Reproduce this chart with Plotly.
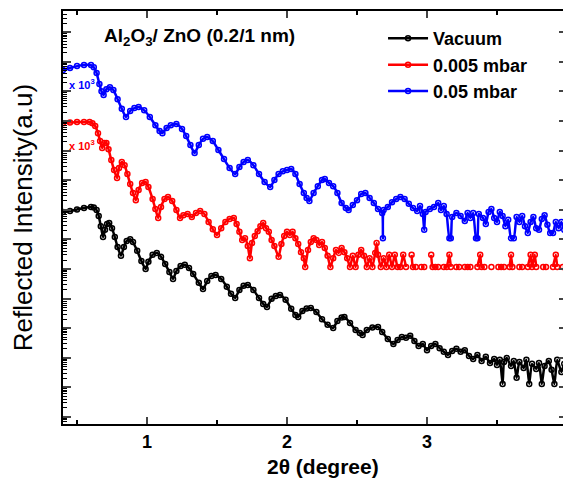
import plotly.graph_objects as go

# 2-theta (degree) and reflected intensity (a.u.)
vac_x = [0.40, 0.45, 0.50, 0.55, 0.60, 0.62, 0.64, 0.655, 0.67, 0.686, 0.70, 0.715, 0.73, 0.75, 0.77,
         0.79, 0.814, 0.835, 0.855, 0.88, 0.90, 0.93, 0.96, 0.99, 1.01, 1.04, 1.07, 1.10, 1.13, 1.16,
         1.186, 1.21, 1.24, 1.27, 1.30, 1.33, 1.37, 1.40, 1.43, 1.46, 1.49, 1.53, 1.57, 1.60, 1.63,
         1.66, 1.69, 1.72, 1.76, 1.80, 1.83, 1.857, 1.89, 1.92, 1.95, 1.99, 2.03, 2.06, 2.08, 2.11,
         2.14, 2.17, 2.21, 2.25, 2.29, 2.33, 2.36, 2.39, 2.41, 2.45, 2.49, 2.52, 2.54, 2.57, 2.61,
         2.65, 2.68, 2.72, 2.76, 2.79, 2.82, 2.85, 2.88, 2.91, 2.94, 2.97, 3.00, 3.03, 3.06, 3.09,
         3.12, 3.15, 3.18, 3.21, 3.24, 3.27, 3.30, 3.33, 3.36, 3.39, 3.42, 3.45, 3.48, 3.50, 3.52,
         3.54, 3.55, 3.57, 3.60, 3.62, 3.64, 3.66, 3.69, 3.71, 3.73, 3.75, 3.78, 3.80, 3.82, 3.84,
         3.87, 3.89, 3.91, 3.93, 3.96, 3.98, 4.00]
vac_y = [8.4e6, 9.1e6, 1.02e7, 1.15e7, 1.24e7, 1.2e7, 9.8e6, 6.2e6, 2.8e6, 1.2e6, 2.1e6, 3.3e6, 3.6e6, 2.4e6, 1.2e6,
         5.5e5, 2.8e5, 5.5e5, 8.9e5, 1.02e6, 8.1e5, 4.1e5, 1.86e5, 1.0e5, 1.74e5, 3.0e5, 3.5e5, 2.6e5, 1.48e5, 7.9e4,
         4.6e4, 8.5e4, 1.26e5, 1.38e5, 1.07e5, 6.8e4, 3.4e4, 2.1e4, 3.9e4, 5.8e4, 6.3e4, 4.6e4, 2.5e4, 1.45e4, 1.05e4,
         1.95e4, 2.7e4, 2.9e4, 1.95e4, 1.05e4, 6.6e3, 5.2e3, 9.8e3, 1.23e4, 1.32e4, 9.1e3, 4.5e3, 2.8e3, 2.4e3, 3.8e3,
         4.6e3, 4.8e3, 3.5e3, 2.0e3, 1.3e3, 1.02e3, 1.75e3, 2.3e3, 2.4e3, 1.5e3, 8.7e2, 6.9e2, 5.9e2, 8.7e2, 1.05e3,
         1.1e3, 7.4e2, 4.3e2, 2.9e2, 4.0e2, 5.0e2, 4.7e2, 5.5e2, 3.7e2, 2.5e2, 2.9e2, 1.8e2, 2.5e2, 2.9e2, 2.1e2,
         1.6e2, 1.24e2, 1.7e2, 2.0e2, 1.6e2, 1.8e2, 1.15e2, 91, 124, 78, 107, 66, 91, 57, 85,
         13, 72, 98, 53, 78, 21, 72, 45, 85, 13, 62, 42, 66, 13, 53,
         78, 39, 13, 85, 33, 62, 42]

red_x = [0.40, 0.45, 0.50, 0.55, 0.59, 0.61, 0.63, 0.65, 0.665, 0.68, 0.695, 0.71, 0.725, 0.745, 0.765,
         0.786, 0.80, 0.82, 0.84, 0.86, 0.88, 0.90, 0.92, 0.94, 0.965, 0.99, 1.01, 1.04, 1.06, 1.08,
         1.10, 1.125, 1.15, 1.18, 1.21, 1.236, 1.26, 1.29, 1.32, 1.35, 1.38, 1.41, 1.44, 1.47, 1.50,
         1.53, 1.56, 1.59, 1.62, 1.64, 1.66, 1.68, 1.70, 1.72, 1.735, 1.75, 1.77, 1.79, 1.81, 1.83,
         1.85, 1.87, 1.89, 1.91, 1.94, 1.96, 1.98, 2.00, 2.02, 2.04, 2.06, 2.08, 2.10, 2.12, 2.13,
         2.15, 2.17, 2.19, 2.21, 2.23, 2.25, 2.27, 2.29, 2.31, 2.33, 2.35, 2.37, 2.39, 2.41, 2.43,
         2.45, 2.47, 2.49, 2.51, 2.53, 2.55, 2.57, 2.59, 2.61, 2.63, 2.64, 2.65, 2.67, 2.69, 2.71,
         2.73, 2.75, 2.77, 2.79, 2.81, 2.83, 2.85, 2.87, 2.89, 2.90, 2.92, 2.94, 2.96, 2.98, 3.00,
         3.03, 3.04, 3.06, 3.08, 3.10, 3.12, 3.14, 3.16, 3.17, 3.19, 3.21, 3.23, 3.25, 3.27, 3.29,
         3.31, 3.33, 3.36, 3.38, 3.39, 3.41, 3.43, 3.46, 3.48, 3.51, 3.53, 3.55, 3.57, 3.59, 3.60,
         3.61, 3.63, 3.66, 3.68, 3.70, 3.72, 3.74, 3.75, 3.77, 3.78, 3.80, 3.83, 3.85, 3.87, 3.90,
         3.92, 3.93, 3.95, 3.97, 4.00]
red_y = [8.5e9, 8.9e9, 9.3e9, 9.3e9, 9.3e9, 8.5e9, 6.8e9, 3.9e9, 2.1e9, 1.23e9, 1.8e9, 1.8e9, 1.12e9, 4.8e8, 2.2e8,
         1.18e8, 2.6e8, 4.1e8, 3.2e8, 1.62e8, 7.4e7, 3.7e7, 2.1e7, 4.7e7, 8.1e7, 8.7e7, 5.9e7, 2.3e7, 1.07e7, 5.3e6,
         1.24e7, 2.3e7, 2.7e7, 2.0e7, 9.8e6, 5.3e6, 6.6e6, 7.2e6, 5.7e6, 7.8e6, 9.1e6, 7.2e6, 3.9e6, 2.2e6, 1.4e6,
         2.4e6, 3.9e6, 4.9e6, 5.3e6, 3.3e6, 1.8e6, 9.5e5, 1.1e6, 6.0e5, 2.3e5, 7.6e5, 1.3e6, 1.9e6, 2.8e6, 3.6e6,
         2.4e6, 1.8e6, 9.5e5, 6.0e5, 2.6e5, 7.0e5, 1.3e6, 1.8e6, 1.4e6, 1.8e6, 1.1e6, 7.0e5, 3.7e5, 2.3e5, 1.17e5,
         4.4e5, 8.1e5, 1.1e6, 9.5e5, 6.5e5, 8.1e5, 5.1e5, 2.8e5, 1.17e5, 2.3e5, 4.4e5, 3.5e5, 5.1e5, 3.7e5, 2.3e5,
         1.17e5, 2.8e5, 1.17e5, 3.0e5, 4.4e5, 2.8e5, 1.17e5, 2.3e5, 1.17e5, 3.5e5, 7.6e5, 3.0e5, 1.17e5, 2.3e5, 1.17e5,
         3.0e5, 1.17e5, 3.0e5, 1.17e5, 1.17e5, 3.0e5, 1.17e5, None, 3.0e5, 1.17e5, 1.17e5, None, 1.17e5, 1.17e5, None,
         3.0e5, 1.17e5, 1.17e5, 1.17e5, None, 1.17e5, 1.17e5, 3.0e5, 1.17e5, None, 1.17e5, 1.17e5, None, 1.17e5, 1.17e5,
         1.17e5, None, 1.17e5, 3.0e5, 1.17e5, 1.17e5, None, 1.17e5, None, 1.17e5, 1.17e5, 1.17e5, None, 1.17e5, 3.0e5,
         1.17e5, None, 1.17e5, 1.17e5, None, 1.17e5, 3.0e5, 1.17e5, 3.0e5, 1.17e5, None, 1.17e5, 1.17e5, None, 1.17e5,
         3.0e5, 1.17e5, None, 1.17e5, 1.17e5]

blue_x = [0.40, 0.45, 0.50, 0.55, 0.60, 0.62, 0.64, 0.66, 0.675, 0.69, 0.71, 0.735, 0.76, 0.79, 0.82,
          0.85, 0.88, 0.91, 0.94, 0.98, 1.02, 1.06, 1.09, 1.11, 1.14, 1.17, 1.21, 1.25, 1.28, 1.31,
          1.34, 1.37, 1.40, 1.43, 1.47, 1.51, 1.55, 1.59, 1.63, 1.66, 1.69, 1.72, 1.76, 1.80, 1.84,
          1.88, 1.91, 1.94, 1.97, 2.00, 2.03, 2.06, 2.09, 2.12, 2.14, 2.16, 2.19, 2.22, 2.25, 2.27,
          2.30, 2.33, 2.36, 2.39, 2.42, 2.44, 2.47, 2.50, 2.53, 2.56, 2.59, 2.62, 2.65, 2.68, 2.685,
          2.69, 2.72, 2.75, 2.78, 2.81, 2.84, 2.87, 2.90, 2.93, 2.95, 2.97, 2.98, 2.99, 3.02, 3.05,
          3.08, 3.10, 3.12, 3.14, 3.16, 3.17, 3.18, 3.21, 3.24, 3.27, 3.29, 3.31, 3.33, 3.35, 3.36,
          3.37, 3.40, 3.42, 3.44, 3.46, 3.48, 3.50, 3.52, 3.54, 3.56, 3.58, 3.60, 3.62, 3.64, 3.66,
          3.68, 3.70, 3.72, 3.74, 3.76, 3.78, 3.80, 3.82, 3.84, 3.86, 3.88, 3.90, 3.92, 3.94, 3.96,
          3.98, 4.00]
blue_y = [5.3e11, 6.2e11, 7.2e11, 7.8e11, 7.8e11, 6.6e11, 4.2e11, 1.78e11, 1.02e11, 7.6e10, 1.2e11, 1.4e11, 1.12e11, 5.5e10, 2.6e10,
          1.38e10, 2.2e10, 2.75e10, 3.0e10, 2.3e10, 1.38e10, 7.2e9, 4.6e9, 3.9e9, 5.8e9, 7.2e9, 7.9e9, 5.4e9, 3.1e9, 1.55e9,
          8.3e8, 1.55e9, 2.5e9, 2.9e9, 2.1e9, 1.05e9, 5.2e8, 2.6e8, 1.62e8, 2.8e8, 4.1e8, 4.8e8, 3.2e8, 1.62e8, 8.7e7,
          5.9e7, 1.02e8, 1.62e8, 2.0e8, 2.2e8, 2.4e8, 1.62e8, 7.4e7, 3.7e7, 2.5e7, 2.0e7, 3.7e7, 6.3e7, 1.02e8, 1.1e8,
          8.1e7, 6.3e7, 3.7e7, 1.7e7, 1.15e7, 9.8e6, 1.45e7, 2.1e7, 3.4e7, 3.7e7, 2.5e7, 1.7e7, 1.07e7, 7.8e6, 1.1e6,
          9.8e6, 1.24e7, 1.8e7, 2.3e7, 2.7e7, 2.3e7, 1.6e7, 1.15e7, 9.1e6, 1.35e7, 7.2e6, 2.1e6, 8.5e6, 1.07e7, 1.24e7,
          1.7e7, 9.8e6, 1.35e7, 7.2e6, 1.1e6, 1.1e6, 5.7e6, 7.8e6, 6.2e6, 4.2e6, 7.8e6, 5.3e6, 7.8e6, 1.1e6, 1.1e6,
          7.2e6, 5.3e6, 3.3e6, 8.5e6, 1.07e7, 5.3e6, 3.9e6, 8.5e6, 6.2e6, 2.8e6, 4.6e6, 1.1e6, 1.1e6, 5.7e6, 3.9e6,
          6.2e6, 2.8e6, 1.65e6, 3.9e6, 5.7e6, 2.4e6, 2.1e6, 4.9e6, 6.6e6, 3.1e6, 1.65e6, 1.65e6, 3.9e6, 2.4e6, 3.9e6,
          2.1e6, 3.1e6]

names = ["Vacuum", "0.005 mbar", "0.05 mbar"]
colors = ["#000000", "#ff0000", "#0000ff"]

fnt = "Liberation Sans, Arial, sans-serif"

fig = go.Figure()
for nm, xs, ys, c in zip(names, [vac_x, red_x, blue_x], [vac_y, red_y, blue_y], colors):
    fig.add_trace(go.Scatter(x=xs, y=ys, name=nm, mode="lines+markers",
                             line=dict(color=c, width=2.5, shape="spline", smoothing=0.5),
                             marker=dict(symbol="circle-open", size=5, color=c, line=dict(width=1.5)),
                             connectgaps=False))

fig.update_xaxes(range=[0.4, 4], dtick=1, tick0=0, ticks="inside", ticklen=7, tickwidth=1.5,
                 showline=True, linecolor="black", linewidth=2, mirror="ticks",
                 showgrid=False, zeroline=False, automargin=False,
                 minor=dict(dtick=0.5, ticks="inside", ticklen=4, tickwidth=1.5, tickcolor="black"),
                 tickfont=dict(family=fnt, size=18, color="black", weight="bold"))
fig.update_yaxes(type="log", range=[-0.24, 13.72], dtick=1, ticks="inside", ticklen=8, tickwidth=1.5,
                 showticklabels=False, showline=True, linecolor="black", linewidth=2, mirror="ticks",
                 showgrid=False, zeroline=False, automargin=False,
                 minor=dict(ticks="inside", ticklen=4, tickwidth=1, tickcolor="black"))

# axis titles
fig.add_annotation(text="<b>2θ (degree)</b>", xref="paper", yref="paper", x=0.515, y=-0.102,
                   xanchor="center", yanchor="middle", showarrow=False,
                   font=dict(family=fnt, size=21, color="black"))
fig.add_annotation(text="Reflected Intensity(a.u)", xref="paper", yref="paper", x=-0.08, y=0.5,
                   xanchor="center", yanchor="middle", textangle=-90, showarrow=False,
                   font=dict(family=fnt, size=26, color="black"))

fig.add_annotation(text="<b>Al<sub>2</sub>O<sub>3</sub>/ ZnO (0.2/1 nm)</b>", xref="paper", yref="paper",
                   x=0.077, y=0.937, xanchor="left", yanchor="middle", showarrow=False,
                   font=dict(family=fnt, size=19, color="black"))
fig.add_annotation(text="<b>x 10<sup>3</sup></b>", xref="paper", yref="paper",
                   x=0.008, y=0.823, xanchor="left", yanchor="middle", showarrow=False,
                   font=dict(family=fnt, size=11, color="#0000ff"))
fig.add_annotation(text="<b>x 10<sup>3</sup></b>", xref="paper", yref="paper",
                   x=0.008, y=0.676, xanchor="left", yanchor="middle", showarrow=False,
                   font=dict(family=fnt, size=11, color="#ff0000"))

# the page body adds an 8 px offset, so the figure is drawn slightly smaller
fig.update_layout(width=563, height=483,
                  margin=dict(l=55, r=4, t=3, b=67),
                  paper_bgcolor="white", plot_bgcolor="white",
                  font=dict(family=fnt, color="black"),
                  legend=dict(x=0.635, y=0.978, xanchor="left", yanchor="top", bgcolor="rgba(0,0,0,0)",
                              font=dict(family=fnt, size=18, color="black", weight="bold"),
                              tracegroupgap=0, itemwidth=40))

fig.write_html("out.html")
